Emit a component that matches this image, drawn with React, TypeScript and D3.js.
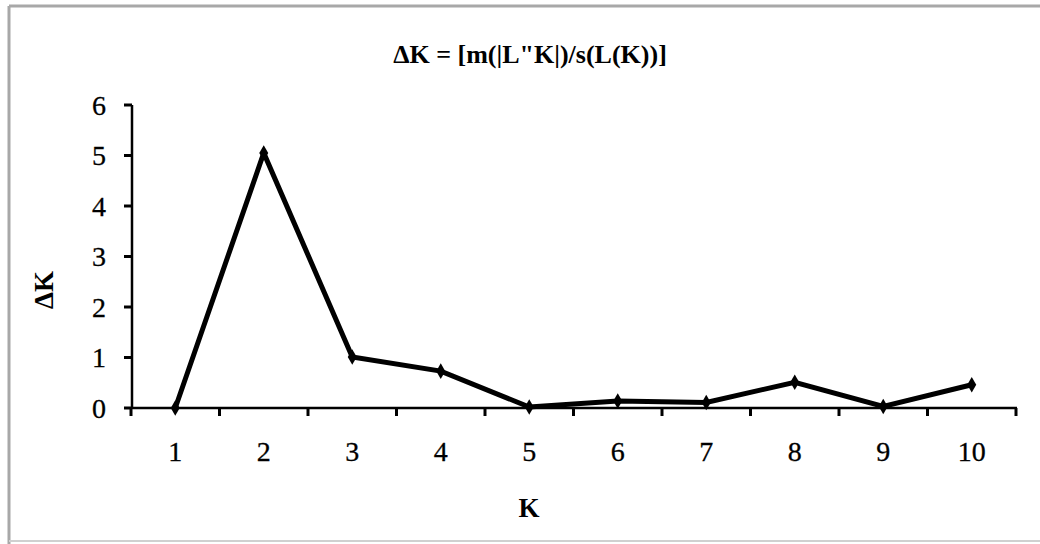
import React from "react";
import * as d3 from "d3";

const categories = ["1", "2", "3", "4", "5", "6", "7", "8", "9", "10"];
const deltaK = [0.0, 5.05, 1.01, 0.73, 0.02, 0.14, 0.11, 0.51, 0.03, 0.46];
const yTicks = [0, 1, 2, 3, 4, 5, 6];
const title = "ΔK = [m(|L\"K|)/s(L(K))]";
const xTitle = "K";
const yTitle = "ΔK";

const W = 1040;
const H = 544;
const FONT = "'Liberation Serif', 'Times New Roman', serif";

export default function App() {
  const x = d3.scaleBand<string>().domain(categories).range([131, 1016]);
  const y = d3.scaleLinear().domain([0, 6]).range([408, 105]);
  const cx = (c: string) => (x(c) as number) + x.bandwidth() / 2;
  const line = d3
    .line<number>()
    .x((_, i) => cx(categories[i]))
    .y((d) => y(d));
  const boundaries = [...categories.map((c) => x(c) as number), x.range()[1]];
  const sym = d3.symbol().type(d3.symbolDiamond).size(70)();

  return (
    <svg
      width={W}
      height={H}
      style={{ position: "fixed", left: 0, top: 0, background: "#fff" }}
      fontFamily={FONT}
    >
      <rect x={0} y={0} width={W} height={H} fill="#fff" />
      {/* frame */}
      <line x1={9} y1={6} x2={W} y2={6} stroke="#a8a8a8" strokeWidth={3} />
      <line x1={9} y1={6} x2={9} y2={H} stroke="#a8a8a8" strokeWidth={3} />
      <line x1={9} y1={541} x2={W} y2={541} stroke="#d0d0d0" strokeWidth={2} />

      <text x={530} y={63} textAnchor="middle" fontWeight="bold" fontSize={26}>
        {title}
      </text>

      {/* y axis */}
      <line x1={132} y1={y(6)} x2={132} y2={y(0)} stroke="#000" strokeWidth={2.5} />
      {yTicks.map((t) => (
        <g key={t}>
          <line x1={124} x2={132} y1={y(t)} y2={y(t)} stroke="#000" strokeWidth={3} />
          <text x={106} y={y(t) + 9.5} textAnchor="end" fontSize={28} stroke="#000" strokeWidth={0.3}>
            {t}
          </text>
        </g>
      ))}

      {/* x axis */}
      <line x1={131} y1={y(0)} x2={1017} y2={y(0)} stroke="#000" strokeWidth={2.5} />
      {boundaries.map((b, i) => (
        <line key={i} x1={b} x2={b} y1={y(0)} y2={y(0) + 8} stroke="#000" strokeWidth={3} />
      ))}
      {categories.map((c) => (
        <text key={c} x={cx(c)} y={461} textAnchor="middle" fontSize={28} stroke="#000" strokeWidth={0.3}>
          {c}
        </text>
      ))}

      <text x={529} y={517} textAnchor="middle" fontWeight="bold" fontSize={27}>
        {xTitle}
      </text>
      <text
        transform={`translate(53,290) rotate(-90)`}
        textAnchor="middle"
        fontWeight="bold"
        fontSize={27}
      >
        {yTitle}
      </text>

      <path
        d={line(deltaK) as string}
        fill="none"
        stroke="#000"
        strokeWidth={5}
        strokeLinejoin="miter"
      />
      {deltaK.map((v, i) => (
        <path
          key={i}
          d={sym as string}
          transform={`translate(${cx(categories[i])},${y(v)})`}
          fill="#000"
        />
      ))}
    </svg>
  );
}
